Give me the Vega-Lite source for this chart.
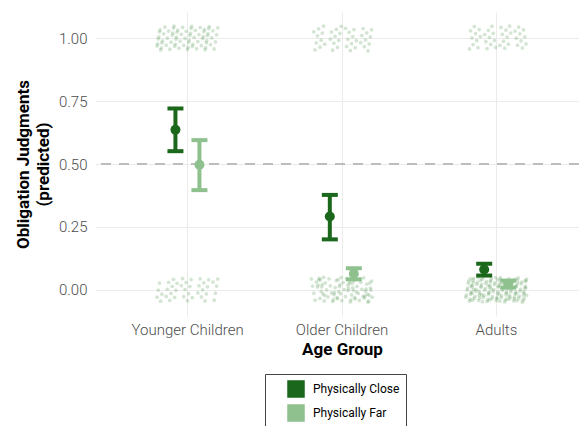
{
"$schema":"https://vega.github.io/schema/vega-lite/v6.json",
"width":484,"height":304,
"autosize":"none",
"padding":{"left":95,"top":12,"right":0,"bottom":110},
"config":{"font":"Roboto","view":{"stroke":null},
 "axis":{"grid":true,"gridColor":"#ebebeb","gridWidth":1,"domain":false,"ticks":false,"labelFontSize":15,"labelFontWeight":300,"labelColor":"#4d4d4d","titleColor":"#000000","titleFontWeight":"bold","titleFontSize":17}},
"datasets":{
"raw":[
{"group":"Younger Children","y":1.007,"j":0.755},{"group":"Younger Children","y":0.964,"j":0.510},{"group":"Younger Children","y":1.021,"j":0.265},{"group":"Younger Children","y":0.978,"j":0.020},{"group":"Younger Children","y":1.035,"j":0.775},{"group":"Younger Children","y":0.992,"j":0.529},{"group":"Younger Children","y":1.049,"j":0.284},{"group":"Younger Children","y":1.006,"j":0.039},{"group":"Younger Children","y":0.963,"j":0.794},{"group":"Younger Children","y":1.020,"j":0.549},
{"group":"Younger Children","y":0.977,"j":0.304},{"group":"Younger Children","y":1.034,"j":0.059},{"group":"Younger Children","y":0.991,"j":0.814},{"group":"Younger Children","y":1.048,"j":0.569},{"group":"Younger Children","y":1.005,"j":0.324},{"group":"Younger Children","y":0.962,"j":0.078},{"group":"Younger Children","y":1.019,"j":0.833},{"group":"Younger Children","y":0.976,"j":0.588},{"group":"Younger Children","y":1.033,"j":0.343},{"group":"Younger Children","y":0.990,"j":0.098},
{"group":"Younger Children","y":1.047,"j":0.853},{"group":"Younger Children","y":1.004,"j":0.608},{"group":"Younger Children","y":0.961,"j":0.363},{"group":"Younger Children","y":1.018,"j":0.118},{"group":"Younger Children","y":0.975,"j":0.873},{"group":"Younger Children","y":1.032,"j":0.627},{"group":"Younger Children","y":0.989,"j":0.382},{"group":"Younger Children","y":1.045,"j":0.137},{"group":"Younger Children","y":1.002,"j":0.892},{"group":"Younger Children","y":0.959,"j":0.647},
{"group":"Younger Children","y":1.016,"j":0.402},{"group":"Younger Children","y":0.973,"j":0.157},{"group":"Younger Children","y":1.030,"j":0.912},{"group":"Younger Children","y":0.987,"j":0.667},{"group":"Younger Children","y":1.044,"j":0.422},{"group":"Younger Children","y":1.001,"j":0.176},{"group":"Younger Children","y":0.958,"j":0.931},{"group":"Younger Children","y":1.015,"j":0.686},{"group":"Younger Children","y":0.972,"j":0.441},{"group":"Younger Children","y":1.029,"j":0.196},
{"group":"Younger Children","y":0.986,"j":0.951},{"group":"Younger Children","y":1.043,"j":0.706},{"group":"Younger Children","y":1.000,"j":0.461},{"group":"Younger Children","y":0.957,"j":0.216},{"group":"Younger Children","y":1.014,"j":0.971},{"group":"Younger Children","y":0.971,"j":0.725},{"group":"Younger Children","y":1.028,"j":0.480},{"group":"Younger Children","y":0.985,"j":0.235},{"group":"Younger Children","y":1.042,"j":0.990},{"group":"Younger Children","y":0.999,"j":0.745},
{"group":"Younger Children","y":0.956,"j":0.500},{"group":"Younger Children","y":1.013,"j":0.255},{"group":"Younger Children","y":0.970,"j":0.010},{"group":"Younger Children","y":1.027,"j":0.765},{"group":"Younger Children","y":0.984,"j":0.520},{"group":"Younger Children","y":1.041,"j":0.274},{"group":"Younger Children","y":0.998,"j":0.029},{"group":"Younger Children","y":0.955,"j":0.784},{"group":"Younger Children","y":1.012,"j":0.539},{"group":"Younger Children","y":0.969,"j":0.294},
{"group":"Younger Children","y":1.026,"j":0.049},{"group":"Younger Children","y":0.983,"j":0.804},{"group":"Younger Children","y":1.040,"j":0.559},{"group":"Younger Children","y":0.997,"j":0.314},{"group":"Younger Children","y":0.954,"j":0.068},{"group":"Younger Children","y":1.011,"j":0.823},{"group":"Younger Children","y":0.968,"j":0.578},{"group":"Younger Children","y":1.025,"j":0.333},{"group":"Younger Children","y":0.982,"j":0.088},{"group":"Younger Children","y":1.039,"j":0.843},
{"group":"Younger Children","y":0.016,"j":0.402},{"group":"Younger Children","y":-0.027,"j":0.157},{"group":"Younger Children","y":0.030,"j":0.912},{"group":"Younger Children","y":-0.013,"j":0.667},{"group":"Younger Children","y":0.044,"j":0.422},{"group":"Younger Children","y":0.001,"j":0.176},{"group":"Younger Children","y":-0.042,"j":0.931},{"group":"Younger Children","y":0.015,"j":0.686},{"group":"Younger Children","y":-0.028,"j":0.441},{"group":"Younger Children","y":0.029,"j":0.196},
{"group":"Younger Children","y":-0.014,"j":0.951},{"group":"Younger Children","y":0.043,"j":0.706},{"group":"Younger Children","y":0.000,"j":0.461},{"group":"Younger Children","y":-0.043,"j":0.216},{"group":"Younger Children","y":0.014,"j":0.971},{"group":"Younger Children","y":-0.029,"j":0.725},{"group":"Younger Children","y":0.028,"j":0.480},{"group":"Younger Children","y":-0.015,"j":0.235},{"group":"Younger Children","y":0.042,"j":0.990},{"group":"Younger Children","y":-0.001,"j":0.745},
{"group":"Younger Children","y":-0.044,"j":0.500},{"group":"Younger Children","y":0.013,"j":0.255},{"group":"Younger Children","y":-0.030,"j":0.010},{"group":"Younger Children","y":0.027,"j":0.765},{"group":"Younger Children","y":-0.016,"j":0.520},{"group":"Younger Children","y":0.041,"j":0.274},{"group":"Younger Children","y":-0.002,"j":0.029},{"group":"Younger Children","y":-0.045,"j":0.784},{"group":"Younger Children","y":0.012,"j":0.539},{"group":"Younger Children","y":-0.031,"j":0.294},
{"group":"Younger Children","y":0.026,"j":0.049},{"group":"Younger Children","y":-0.017,"j":0.804},{"group":"Younger Children","y":0.040,"j":0.559},{"group":"Younger Children","y":-0.003,"j":0.314},{"group":"Younger Children","y":-0.046,"j":0.068},{"group":"Younger Children","y":0.011,"j":0.823},{"group":"Younger Children","y":-0.032,"j":0.578},{"group":"Younger Children","y":0.025,"j":0.333},{"group":"Younger Children","y":-0.018,"j":0.088},{"group":"Younger Children","y":0.039,"j":0.843},
{"group":"Older Children","y":1.026,"j":0.049},{"group":"Older Children","y":0.983,"j":0.804},{"group":"Older Children","y":1.040,"j":0.559},{"group":"Older Children","y":0.997,"j":0.314},{"group":"Older Children","y":0.954,"j":0.068},{"group":"Older Children","y":1.011,"j":0.823},{"group":"Older Children","y":0.968,"j":0.578},{"group":"Older Children","y":1.025,"j":0.333},{"group":"Older Children","y":0.982,"j":0.088},{"group":"Older Children","y":1.039,"j":0.843},
{"group":"Older Children","y":0.996,"j":0.598},{"group":"Older Children","y":0.953,"j":0.353},{"group":"Older Children","y":1.010,"j":0.108},{"group":"Older Children","y":0.967,"j":0.863},{"group":"Older Children","y":1.024,"j":0.618},{"group":"Older Children","y":0.981,"j":0.372},{"group":"Older Children","y":1.038,"j":0.127},{"group":"Older Children","y":0.994,"j":0.882},{"group":"Older Children","y":0.951,"j":0.637},{"group":"Older Children","y":1.008,"j":0.392},
{"group":"Older Children","y":0.965,"j":0.147},{"group":"Older Children","y":1.022,"j":0.902},{"group":"Older Children","y":0.979,"j":0.657},{"group":"Older Children","y":1.036,"j":0.412},{"group":"Older Children","y":0.993,"j":0.167},{"group":"Older Children","y":0.950,"j":0.922},{"group":"Older Children","y":1.007,"j":0.676},{"group":"Older Children","y":0.964,"j":0.431},{"group":"Older Children","y":1.021,"j":0.186},{"group":"Older Children","y":0.978,"j":0.941},
{"group":"Older Children","y":1.035,"j":0.696},{"group":"Older Children","y":0.992,"j":0.451},{"group":"Older Children","y":1.049,"j":0.206},{"group":"Older Children","y":1.006,"j":0.961},{"group":"Older Children","y":0.963,"j":0.716},{"group":"Older Children","y":1.020,"j":0.470},{"group":"Older Children","y":0.977,"j":0.225},{"group":"Older Children","y":1.034,"j":0.980},{"group":"Older Children","y":0.991,"j":0.735},{"group":"Older Children","y":1.048,"j":0.490},
{"group":"Older Children","y":0.047,"j":0.853},{"group":"Older Children","y":0.004,"j":0.608},{"group":"Older Children","y":-0.040,"j":0.363},{"group":"Older Children","y":0.018,"j":0.118},{"group":"Older Children","y":-0.026,"j":0.873},{"group":"Older Children","y":0.032,"j":0.627},{"group":"Older Children","y":-0.012,"j":0.382},{"group":"Older Children","y":0.045,"j":0.137},{"group":"Older Children","y":0.002,"j":0.892},{"group":"Older Children","y":-0.041,"j":0.647},
{"group":"Older Children","y":0.016,"j":0.598},{"group":"Older Children","y":-0.027,"j":0.843},{"group":"Older Children","y":0.030,"j":0.088},{"group":"Older Children","y":-0.013,"j":0.333},{"group":"Older Children","y":0.044,"j":0.578},{"group":"Older Children","y":0.001,"j":0.824},{"group":"Older Children","y":-0.042,"j":0.069},{"group":"Older Children","y":0.015,"j":0.314},{"group":"Older Children","y":-0.028,"j":0.559},{"group":"Older Children","y":0.029,"j":0.804},
{"group":"Older Children","y":-0.014,"j":0.049},{"group":"Older Children","y":0.043,"j":0.294},{"group":"Older Children","y":0.000,"j":0.539},{"group":"Older Children","y":-0.043,"j":0.784},{"group":"Older Children","y":0.014,"j":0.029},{"group":"Older Children","y":-0.029,"j":0.275},{"group":"Older Children","y":0.028,"j":0.520},{"group":"Older Children","y":-0.015,"j":0.765},{"group":"Older Children","y":0.042,"j":0.010},{"group":"Older Children","y":-0.001,"j":0.255},
{"group":"Older Children","y":-0.044,"j":0.500},{"group":"Older Children","y":0.013,"j":0.745},{"group":"Older Children","y":-0.030,"j":0.990},{"group":"Older Children","y":0.027,"j":0.235},{"group":"Older Children","y":-0.016,"j":0.480},{"group":"Older Children","y":0.041,"j":0.726},{"group":"Older Children","y":-0.002,"j":0.971},{"group":"Older Children","y":-0.045,"j":0.216},{"group":"Older Children","y":0.012,"j":0.461},{"group":"Older Children","y":-0.031,"j":0.706},
{"group":"Older Children","y":0.026,"j":0.951},{"group":"Older Children","y":-0.017,"j":0.196},{"group":"Older Children","y":0.040,"j":0.441},{"group":"Older Children","y":-0.003,"j":0.686},{"group":"Older Children","y":-0.046,"j":0.932},{"group":"Older Children","y":0.011,"j":0.177},{"group":"Older Children","y":-0.032,"j":0.422},{"group":"Older Children","y":0.025,"j":0.667},{"group":"Older Children","y":-0.018,"j":0.912},{"group":"Older Children","y":0.039,"j":0.157},
{"group":"Older Children","y":-0.004,"j":0.598},{"group":"Older Children","y":-0.047,"j":0.353},{"group":"Older Children","y":0.010,"j":0.108},{"group":"Older Children","y":-0.034,"j":0.863},{"group":"Older Children","y":0.024,"j":0.618},{"group":"Older Children","y":-0.020,"j":0.372},{"group":"Older Children","y":0.038,"j":0.127},{"group":"Older Children","y":-0.006,"j":0.882},{"group":"Older Children","y":-0.049,"j":0.637},{"group":"Older Children","y":0.008,"j":0.392},
{"group":"Older Children","y":-0.035,"j":0.147},{"group":"Older Children","y":0.022,"j":0.902},{"group":"Older Children","y":-0.021,"j":0.657},{"group":"Older Children","y":0.036,"j":0.412},{"group":"Older Children","y":-0.007,"j":0.167},{"group":"Older Children","y":-0.050,"j":0.922},{"group":"Older Children","y":0.007,"j":0.676},{"group":"Older Children","y":-0.036,"j":0.431},{"group":"Older Children","y":0.021,"j":0.186},{"group":"Older Children","y":-0.022,"j":0.941},
{"group":"Older Children","y":0.035,"j":0.696},{"group":"Older Children","y":-0.008,"j":0.451},{"group":"Older Children","y":0.049,"j":0.206},{"group":"Older Children","y":0.006,"j":0.961},{"group":"Older Children","y":-0.037,"j":0.716},{"group":"Older Children","y":0.020,"j":0.470},{"group":"Older Children","y":-0.023,"j":0.225},{"group":"Older Children","y":0.034,"j":0.980},{"group":"Older Children","y":-0.009,"j":0.735},{"group":"Older Children","y":0.048,"j":0.490},
{"group":"Adults","y":1.007,"j":0.245},{"group":"Adults","y":0.964,"j":0.490},{"group":"Adults","y":1.021,"j":0.735},{"group":"Adults","y":0.978,"j":0.980},{"group":"Adults","y":1.035,"j":0.225},{"group":"Adults","y":0.992,"j":0.471},{"group":"Adults","y":1.049,"j":0.716},{"group":"Adults","y":1.006,"j":0.961},{"group":"Adults","y":0.963,"j":0.206},{"group":"Adults","y":1.020,"j":0.451},
{"group":"Adults","y":0.977,"j":0.696},{"group":"Adults","y":1.034,"j":0.941},{"group":"Adults","y":0.991,"j":0.186},{"group":"Adults","y":1.048,"j":0.431},{"group":"Adults","y":1.005,"j":0.676},{"group":"Adults","y":0.962,"j":0.922},{"group":"Adults","y":1.019,"j":0.167},{"group":"Adults","y":0.976,"j":0.412},{"group":"Adults","y":1.033,"j":0.657},{"group":"Adults","y":0.990,"j":0.902},
{"group":"Adults","y":1.047,"j":0.147},{"group":"Adults","y":1.004,"j":0.392},{"group":"Adults","y":0.961,"j":0.637},{"group":"Adults","y":1.018,"j":0.882},{"group":"Adults","y":0.975,"j":0.127},{"group":"Adults","y":1.032,"j":0.373},{"group":"Adults","y":0.989,"j":0.618},{"group":"Adults","y":1.045,"j":0.863},{"group":"Adults","y":1.002,"j":0.108},{"group":"Adults","y":0.959,"j":0.353},
{"group":"Adults","y":1.016,"j":0.598},{"group":"Adults","y":0.973,"j":0.843},{"group":"Adults","y":1.030,"j":0.088},{"group":"Adults","y":0.987,"j":0.333},{"group":"Adults","y":1.044,"j":0.578},{"group":"Adults","y":1.001,"j":0.824},{"group":"Adults","y":0.958,"j":0.069},{"group":"Adults","y":1.015,"j":0.314},{"group":"Adults","y":0.972,"j":0.559},{"group":"Adults","y":1.029,"j":0.804},
{"group":"Adults","y":0.007,"j":0.755},{"group":"Adults","y":-0.036,"j":0.510},{"group":"Adults","y":0.021,"j":0.265},{"group":"Adults","y":-0.022,"j":0.020},{"group":"Adults","y":0.035,"j":0.775},{"group":"Adults","y":-0.008,"j":0.529},{"group":"Adults","y":0.049,"j":0.284},{"group":"Adults","y":0.006,"j":0.039},{"group":"Adults","y":-0.037,"j":0.794},{"group":"Adults","y":0.020,"j":0.549},
{"group":"Adults","y":-0.023,"j":0.304},{"group":"Adults","y":0.034,"j":0.059},{"group":"Adults","y":-0.009,"j":0.814},{"group":"Adults","y":0.048,"j":0.569},{"group":"Adults","y":0.005,"j":0.324},{"group":"Adults","y":-0.038,"j":0.078},{"group":"Adults","y":0.019,"j":0.833},{"group":"Adults","y":-0.024,"j":0.588},{"group":"Adults","y":0.033,"j":0.343},{"group":"Adults","y":-0.010,"j":0.098},
{"group":"Adults","y":0.047,"j":0.853},{"group":"Adults","y":0.004,"j":0.608},{"group":"Adults","y":-0.040,"j":0.363},{"group":"Adults","y":0.018,"j":0.118},{"group":"Adults","y":-0.026,"j":0.873},{"group":"Adults","y":0.032,"j":0.627},{"group":"Adults","y":-0.012,"j":0.382},{"group":"Adults","y":0.045,"j":0.137},{"group":"Adults","y":0.002,"j":0.892},{"group":"Adults","y":-0.041,"j":0.647},
{"group":"Adults","y":0.016,"j":0.402},{"group":"Adults","y":-0.027,"j":0.157},{"group":"Adults","y":0.030,"j":0.912},{"group":"Adults","y":-0.013,"j":0.667},{"group":"Adults","y":0.044,"j":0.422},{"group":"Adults","y":0.001,"j":0.176},{"group":"Adults","y":-0.042,"j":0.931},{"group":"Adults","y":0.015,"j":0.686},{"group":"Adults","y":-0.028,"j":0.441},{"group":"Adults","y":0.029,"j":0.196},
{"group":"Adults","y":-0.014,"j":0.951},{"group":"Adults","y":0.043,"j":0.706},{"group":"Adults","y":0.000,"j":0.461},{"group":"Adults","y":-0.043,"j":0.216},{"group":"Adults","y":0.014,"j":0.971},{"group":"Adults","y":-0.029,"j":0.725},{"group":"Adults","y":0.028,"j":0.480},{"group":"Adults","y":-0.015,"j":0.235},{"group":"Adults","y":0.042,"j":0.990},{"group":"Adults","y":-0.001,"j":0.745},
{"group":"Adults","y":-0.044,"j":0.500},{"group":"Adults","y":0.013,"j":0.255},{"group":"Adults","y":-0.030,"j":0.010},{"group":"Adults","y":0.027,"j":0.765},{"group":"Adults","y":-0.016,"j":0.520},{"group":"Adults","y":0.041,"j":0.274},{"group":"Adults","y":-0.002,"j":0.029},{"group":"Adults","y":-0.045,"j":0.784},{"group":"Adults","y":0.012,"j":0.539},{"group":"Adults","y":-0.031,"j":0.294},
{"group":"Adults","y":0.026,"j":0.049},{"group":"Adults","y":-0.017,"j":0.804},{"group":"Adults","y":0.040,"j":0.559},{"group":"Adults","y":-0.003,"j":0.314},{"group":"Adults","y":-0.046,"j":0.068},{"group":"Adults","y":0.011,"j":0.823},{"group":"Adults","y":-0.032,"j":0.578},{"group":"Adults","y":0.025,"j":0.333},{"group":"Adults","y":-0.018,"j":0.088},{"group":"Adults","y":0.039,"j":0.843},
{"group":"Adults","y":-0.004,"j":0.598},{"group":"Adults","y":-0.047,"j":0.353},{"group":"Adults","y":0.010,"j":0.108},{"group":"Adults","y":-0.034,"j":0.863},{"group":"Adults","y":0.024,"j":0.618},{"group":"Adults","y":-0.020,"j":0.372},{"group":"Adults","y":0.038,"j":0.127},{"group":"Adults","y":-0.006,"j":0.882},{"group":"Adults","y":-0.049,"j":0.637},{"group":"Adults","y":0.008,"j":0.392},
{"group":"Adults","y":-0.035,"j":0.147},{"group":"Adults","y":0.022,"j":0.902},{"group":"Adults","y":-0.021,"j":0.657},{"group":"Adults","y":0.036,"j":0.412},{"group":"Adults","y":-0.007,"j":0.167},{"group":"Adults","y":-0.050,"j":0.922},{"group":"Adults","y":0.007,"j":0.676},{"group":"Adults","y":-0.036,"j":0.431},{"group":"Adults","y":0.021,"j":0.186},{"group":"Adults","y":-0.022,"j":0.941},
{"group":"Adults","y":0.035,"j":0.696},{"group":"Adults","y":-0.008,"j":0.451},{"group":"Adults","y":0.049,"j":0.206},{"group":"Adults","y":0.006,"j":0.961},{"group":"Adults","y":-0.037,"j":0.716},{"group":"Adults","y":0.020,"j":0.470},{"group":"Adults","y":-0.023,"j":0.225},{"group":"Adults","y":0.034,"j":0.980},{"group":"Adults","y":-0.009,"j":0.735},{"group":"Adults","y":0.048,"j":0.490},
{"group":"Adults","y":0.026,"j":0.570},{"group":"Adults","y":0.001,"j":0.140},{"group":"Adults","y":-0.024,"j":0.709},{"group":"Adults","y":-0.048,"j":0.279},{"group":"Adults","y":0.028,"j":0.849},{"group":"Adults","y":0.003,"j":0.419},{"group":"Adults","y":-0.022,"j":0.989},{"group":"Adults","y":-0.046,"j":0.558},{"group":"Adults","y":0.029,"j":0.128},{"group":"Adults","y":0.005,"j":0.698},
{"group":"Adults","y":-0.020,"j":0.268},{"group":"Adults","y":-0.044,"j":0.838},{"group":"Adults","y":0.031,"j":0.407},{"group":"Adults","y":0.007,"j":0.977},{"group":"Adults","y":-0.018,"j":0.547},{"group":"Adults","y":-0.042,"j":0.117},{"group":"Adults","y":0.033,"j":0.687},{"group":"Adults","y":0.009,"j":0.256},{"group":"Adults","y":-0.016,"j":0.826},{"group":"Adults","y":-0.040,"j":0.396},
{"group":"Adults","y":0.035,"j":0.966},{"group":"Adults","y":0.011,"j":0.536},{"group":"Adults","y":-0.014,"j":0.105},{"group":"Adults","y":-0.038,"j":0.675},{"group":"Adults","y":0.037,"j":0.245},{"group":"Adults","y":0.013,"j":0.815},{"group":"Adults","y":-0.012,"j":0.385},{"group":"Adults","y":-0.036,"j":0.954},{"group":"Adults","y":0.039,"j":0.524},{"group":"Adults","y":0.015,"j":0.094},
{"group":"Adults","y":-0.010,"j":0.664},{"group":"Adults","y":-0.034,"j":0.234},{"group":"Adults","y":0.041,"j":0.803},{"group":"Adults","y":0.017,"j":0.373},{"group":"Adults","y":-0.008,"j":0.943},{"group":"Adults","y":-0.032,"j":0.513},{"group":"Adults","y":0.043,"j":0.083},{"group":"Adults","y":0.019,"j":0.652},{"group":"Adults","y":-0.006,"j":0.222},{"group":"Adults","y":-0.030,"j":0.792}
],
"est":[
{"group":"Younger Children","cond":"Physically Close","m":0.636,"lo":0.551,"hi":0.721},
{"group":"Younger Children","cond":"Physically Far","m":0.497,"lo":0.396,"hi":0.595},
{"group":"Older Children","cond":"Physically Close","m":0.291,"lo":0.200,"hi":0.377},
{"group":"Older Children","cond":"Physically Far","m":0.063,"lo":0.041,"hi":0.085},
{"group":"Adults","cond":"Physically Close","m":0.080,"lo":0.056,"hi":0.103},
{"group":"Adults","cond":"Physically Far","m":0.022,"lo":0.008,"hi":0.036}
]},
"layer":[
{"data":{"name":"raw"},
 "mark":{"type":"circle","size":14,"opacity":0.22,"color":"#3a8a3a"},
 "encoding":{
  "x":{"field":"group","type":"nominal",
   "scale":{"type":"band","domain":["Younger Children","Older Children","Adults"],"range":[0,494],"paddingInner":0,"paddingOuter":0.1},
   "axis":{"title":"Age Group","labelAngle":0,"labelPadding":6,"titlePadding":4,"bandPosition":0.5}},
  "xOffset":{"field":"j","type":"quantitative","scale":{"domain":[0,1],"range":[46,108]}},
  "y":{"field":"y","type":"quantitative","scale":{"domain":[-0.105,1.105],"nice":false,"zero":false},
   "axis":{"title":["Obligation Judgments","(predicted)"],"values":[0,0.25,0.5,0.75,1],"format":".2f","labelPadding":8,"titlePadding":6,"titleLineHeight":20}}}},
{"data":{"values":[{"ref":0.5}]},
 "mark":{"type":"rule","strokeDash":[10,8],"color":"#bdbdbd","strokeWidth":2.2},
 "encoding":{"y":{"field":"ref","type":"quantitative"}}},
{"data":{"name":"est"},
 "encoding":{
  "x":{"field":"group","type":"nominal"},
  "xOffset":{"field":"cond","type":"nominal","scale":{"domain":["Physically Close","Physically Far"],"range":[53,101],"paddingInner":0,"paddingOuter":0}},
  "color":{"field":"cond","type":"nominal","scale":{"domain":["Physically Close","Physically Far"],"range":["#1b671b","#8fc18f"]},
   "legend":{"title":null,"orient":"none","legendX":170,"legendY":362,"direction":"vertical","strokeColor":"#444444","padding":6,"symbolOffset":16,"symbolType":"square","symbolSize":256,"symbolStrokeColor":"#333333","labelFontSize":12,"labelOffset":8,"rowPadding":2,"labelColor":"#000000"}}},
 "layer":[
  {"mark":{"type":"rule","strokeWidth":4},"encoding":{"y":{"field":"lo","type":"quantitative"},"y2":{"field":"hi"}}},
  {"mark":{"type":"tick","thickness":4,"size":16,"orient":"horizontal","opacity":1},"encoding":{"y":{"field":"lo","type":"quantitative"}}},
  {"mark":{"type":"tick","thickness":4,"size":16,"orient":"horizontal","opacity":1},"encoding":{"y":{"field":"hi","type":"quantitative"}}},
  {"mark":{"type":"circle","size":100,"opacity":1},"encoding":{"y":{"field":"m","type":"quantitative"}}}
 ]}
],
"resolve":{"scale":{"xOffset":"independent"}}
}
